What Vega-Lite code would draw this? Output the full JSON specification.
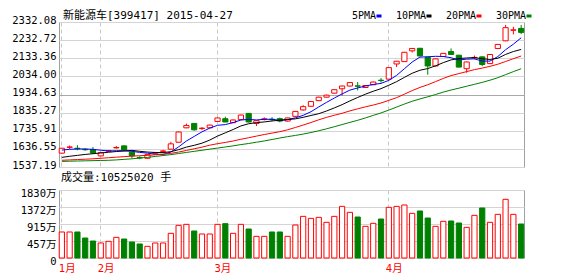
{
  "$schema": "https://vega.github.io/schema/vega-lite/v6.json",
  "background": "white",
  "padding": {"left": 11, "top": 9, "right": 0, "bottom": 0},
  "bounds": "flush",
  "spacing": 23,
  "config": {
    "font": "DejaVu Sans Mono, Noto Sans CJK SC",
    "view": {"stroke": "#a0a0a0", "strokeWidth": 1},
    "axis": {"ticks": false, "domain": false, "title": null, "labelFont": "DejaVu Sans Mono, Noto Sans CJK SC", "labelFontSize": 10.5, "labelColor": "#000000", "labelPadding": 3, "labelOverlap": false},
    "title": {"font": "DejaVu Sans Mono, Noto Sans CJK SC", "fontSize": 11, "fontWeight": "normal", "anchor": "start", "frame": "group", "color": "#000000"}
  },
  "datasets": {
    "k": [
      {"d":"2015-01-26","o":1613,"h":1642,"l":1611,"c":1640,"v":700,"5PMA":1630,"10PMA":1590,"20PMA":1574,"30PMA":1568},
      {"d":"2015-01-27","o":1645,"h":1655,"l":1636,"c":1647,"v":700,"5PMA":1634,"10PMA":1596,"20PMA":1576,"30PMA":1569},
      {"d":"2015-01-28","o":1640,"h":1657,"l":1629,"c":1637,"v":700,"5PMA":1636,"10PMA":1601,"20PMA":1578,"30PMA":1570},
      {"d":"2015-01-29","o":1634,"h":1640,"l":1626,"c":1632,"v":538,"5PMA":1636,"10PMA":1606,"20PMA":1580,"30PMA":1571},
      {"d":"2015-01-30","o":1633,"h":1647,"l":1612,"c":1614,"v":457,"5PMA":1634,"10PMA":1610,"20PMA":1582,"30PMA":1572},
      {"d":"2015-02-02","o":1598,"h":1620,"l":1596,"c":1616,"v":404,"5PMA":1629.2,"10PMA":1614,"20PMA":1585,"30PMA":1573},
      {"d":"2015-02-03","o":1624,"h":1630,"l":1620,"c":1626,"v":449,"5PMA":1625,"10PMA":1618,"20PMA":1588,"30PMA":1574},
      {"d":"2015-02-04","o":1642,"h":1652,"l":1638,"c":1644,"v":556,"5PMA":1626.4,"10PMA":1622,"20PMA":1591,"30PMA":1576},
      {"d":"2015-02-05","o":1653,"h":1655,"l":1629,"c":1631,"v":511,"5PMA":1626.2,"10PMA":1625,"20PMA":1594,"30PMA":1579},
      {"d":"2015-02-06","o":1618,"h":1620,"l":1585,"c":1598,"v":431,"5PMA":1623,"10PMA":1628.5,"20PMA":1597,"30PMA":1582},
      {"d":"2015-02-09","o":1589,"h":1596,"l":1580,"c":1587,"v":377,"5PMA":1617.2,"10PMA":1623.2,"20PMA":1599,"30PMA":1586},
      {"d":"2015-02-10","o":1585,"h":1607,"l":1583,"c":1605,"v":314,"5PMA":1613,"10PMA":1619,"20PMA":1601,"30PMA":1590},
      {"d":"2015-02-11","o":1613,"h":1620,"l":1606,"c":1615,"v":404,"5PMA":1607.2,"10PMA":1616.8,"20PMA":1604,"30PMA":1595},
      {"d":"2015-02-12","o":1623,"h":1631,"l":1618,"c":1625,"v":404,"5PMA":1606,"10PMA":1616.1,"20PMA":1607,"30PMA":1600},
      {"d":"2015-02-13","o":1635,"h":1675,"l":1633,"c":1664,"v":664,"5PMA":1619.2,"10PMA":1621.1,"20PMA":1612,"30PMA":1605},
      {"d":"2015-02-16","o":1673,"h":1731,"l":1671,"c":1729,"v":879,"5PMA":1647.6,"10PMA":1632.4,"20PMA":1619,"30PMA":1611},
      {"d":"2015-02-17","o":1752,"h":1775,"l":1750,"c":1765,"v":906,"5PMA":1679.6,"10PMA":1646.3,"20PMA":1628,"30PMA":1617},
      {"d":"2015-02-25","o":1776,"h":1778,"l":1736,"c":1741,"v":727,"5PMA":1704.8,"10PMA":1656,"20PMA":1637,"30PMA":1623},
      {"d":"2015-02-26","o":1748,"h":1756,"l":1740,"c":1750,"v":646,"5PMA":1729.8,"10PMA":1667.9,"20PMA":1646,"30PMA":1629},
      {"d":"2015-02-27","o":1752,"h":1769,"l":1750,"c":1767,"v":646,"5PMA":1750.4,"10PMA":1684.8,"20PMA":1656.7,"30PMA":1635},
      {"d":"2015-03-02","o":1787,"h":1808,"l":1785,"c":1806,"v":906,"5PMA":1765.8,"10PMA":1706.7,"20PMA":1665,"30PMA":1641},
      {"d":"2015-03-03","o":1802,"h":1813,"l":1782,"c":1784,"v":924,"5PMA":1769.6,"10PMA":1724.6,"20PMA":1671.8,"30PMA":1647},
      {"d":"2015-03-04","o":1780,"h":1797,"l":1778,"c":1795,"v":664,"5PMA":1780.4,"10PMA":1742.6,"20PMA":1679.7,"30PMA":1653},
      {"d":"2015-03-05","o":1797,"h":1824,"l":1795,"c":1822,"v":906,"5PMA":1794.8,"10PMA":1762.3,"20PMA":1689.2,"30PMA":1660},
      {"d":"2015-03-06","o":1831,"h":1833,"l":1782,"c":1784,"v":780,"5PMA":1798.2,"10PMA":1774.3,"20PMA":1697.7,"30PMA":1666},
      {"d":"2015-03-09","o":1776,"h":1793,"l":1762,"c":1791,"v":583,"5PMA":1795.2,"10PMA":1780.5,"20PMA":1706.5,"30PMA":1673},
      {"d":"2015-03-10","o":1799,"h":1809,"l":1792,"c":1801,"v":583,"5PMA":1798.6,"10PMA":1784.1,"20PMA":1715.2,"30PMA":1680},
      {"d":"2015-03-11","o":1799,"h":1810,"l":1788,"c":1797,"v":700,"5PMA":1799,"10PMA":1789.7,"20PMA":1722.9,"30PMA":1688},
      {"d":"2015-03-12","o":1802,"h":1808,"l":1782,"c":1789,"v":700,"5PMA":1792.4,"10PMA":1793.6,"20PMA":1730.8,"30PMA":1696},
      {"d":"2015-03-13","o":1789,"h":1808,"l":1787,"c":1806,"v":583,"5PMA":1796.8,"10PMA":1797.5,"20PMA":1741.2,"30PMA":1703.6},
      {"d":"2015-03-16","o":1815,"h":1844,"l":1813,"c":1842,"v":888,"5PMA":1807,"10PMA":1801.1,"20PMA":1753.9,"30PMA":1710.3},
      {"d":"2015-03-17","o":1850,"h":1876,"l":1846,"c":1868,"v":1121,"5PMA":1820.4,"10PMA":1809.5,"20PMA":1767.1,"30PMA":1717.7},
      {"d":"2015-03-18","o":1870,"h":1898,"l":1868,"c":1896,"v":1067,"5PMA":1840.2,"10PMA":1819.6,"20PMA":1781.1,"30PMA":1726.3},
      {"d":"2015-03-19","o":1901,"h":1922,"l":1899,"c":1920,"v":1094,"5PMA":1866.4,"10PMA":1829.4,"20PMA":1795.9,"30PMA":1735.9},
      {"d":"2015-03-20","o":1920,"h":1934,"l":1918,"c":1931,"v":960,"5PMA":1891.4,"10PMA":1844.1,"20PMA":1809.2,"30PMA":1746.5},
      {"d":"2015-03-23","o":1942,"h":1963,"l":1940,"c":1961,"v":1121,"5PMA":1915.2,"10PMA":1861.1,"20PMA":1820.8,"30PMA":1758},
      {"d":"2015-03-24","o":1966,"h":1983,"l":1929,"c":1981,"v":1390,"5PMA":1937.8,"10PMA":1879.1,"20PMA":1831.6,"30PMA":1769.8},
      {"d":"2015-03-25","o":1981,"h":2002,"l":1979,"c":2000,"v":1229,"5PMA":1958.6,"10PMA":1899.4,"20PMA":1844.6,"30PMA":1781.7},
      {"d":"2015-03-26","o":1982,"h":2003,"l":1957,"c":1980,"v":1103,"5PMA":1970.6,"10PMA":1918.5,"20PMA":1856.1,"30PMA":1793.3},
      {"d":"2015-03-27","o":1973,"h":1986,"l":1971,"c":1984,"v":852,"5PMA":1981.2,"10PMA":1936.3,"20PMA":1866.9,"30PMA":1806.2},
      {"d":"2015-03-30","o":1988,"h":2005,"l":1986,"c":2003,"v":933,"5PMA":1989.6,"10PMA":1952.4,"20PMA":1876.8,"30PMA":1820.1},
      {"d":"2015-03-31","o":2013,"h":2025,"l":2000,"c":2011,"v":1049,"5PMA":1995.6,"10PMA":1966.7,"20PMA":1888.1,"30PMA":1833.6},
      {"d":"2015-04-01","o":2019,"h":2084,"l":2017,"c":2082,"v":1363,"5PMA":2012,"10PMA":1985.3,"20PMA":1902.5,"30PMA":1849.2},
      {"d":"2015-04-02","o":2102,"h":2119,"l":2085,"c":2117,"v":1390,"5PMA":2039.4,"10PMA":2005,"20PMA":1917.2,"30PMA":1865.6},
      {"d":"2015-04-03","o":2115,"h":2168,"l":2113,"c":2166,"v":1426,"5PMA":2075.8,"10PMA":2028.5,"20PMA":1936.3,"30PMA":1882.3},
      {"d":"2015-04-07","o":2174,"h":2189,"l":2165,"c":2187,"v":1202,"5PMA":2112.6,"10PMA":2051.1,"20PMA":1956.1,"30PMA":1897.6},
      {"d":"2015-04-08","o":2188,"h":2190,"l":2144,"c":2146,"v":1265,"5PMA":2139.6,"10PMA":2067.6,"20PMA":1973.4,"30PMA":1910.3},
      {"d":"2015-04-09","o":2139,"h":2141,"l":2043,"c":2091,"v":1076,"5PMA":2141.4,"10PMA":2076.7,"20PMA":1988.1,"30PMA":1921.9},
      {"d":"2015-04-10","o":2091,"h":2132,"l":2089,"c":2130,"v":852,"5PMA":2144,"10PMA":2091.7,"20PMA":2005.1,"30PMA":1934.6},
      {"d":"2015-04-13","o":2143,"h":2162,"l":2141,"c":2160,"v":987,"5PMA":2142.8,"10PMA":2109.3,"20PMA":2022.8,"30PMA":1947.7},
      {"d":"2015-04-14","o":2170,"h":2187,"l":2152,"c":2154,"v":996,"5PMA":2136.2,"10PMA":2124.4,"20PMA":2038.4,"30PMA":1959.3},
      {"d":"2015-04-15","o":2150,"h":2152,"l":2083,"c":2085,"v":942,"5PMA":2124,"10PMA":2131.8,"20PMA":2049.3,"30PMA":1969.3},
      {"d":"2015-04-16","o":2076,"h":2115,"l":2054,"c":2113,"v":825,"5PMA":2128.4,"10PMA":2134.9,"20PMA":2060.1,"30PMA":1979.9},
      {"d":"2015-04-17","o":2136,"h":2148,"l":2128,"c":2138,"v":1148,"5PMA":2130,"10PMA":2137,"20PMA":2071,"30PMA":1990.5},
      {"d":"2015-04-20","o":2141,"h":2143,"l":2090,"c":2099,"v":1346,"5PMA":2117.8,"10PMA":2130.3,"20PMA":2079.4,"30PMA":2001},
      {"d":"2015-04-21","o":2104,"h":2156,"l":2102,"c":2154,"v":960,"5PMA":2117.8,"10PMA":2127,"20PMA":2089.1,"30PMA":2013.1},
      {"d":"2015-04-22","o":2187,"h":2211,"l":2185,"c":2209,"v":1175,"5PMA":2142.6,"10PMA":2133.3,"20PMA":2100.5,"30PMA":2026.7},
      {"d":"2015-04-23","o":2229,"h":2316,"l":2227,"c":2301,"v":1579,"5PMA":2180.2,"10PMA":2154.3,"20PMA":2115.5,"30PMA":2043.5},
      {"d":"2015-04-24","o":2287,"h":2306,"l":2264,"c":2289,"v":1175,"5PMA":2210.4,"10PMA":2170.2,"20PMA":2131,"30PMA":2060.1},
      {"d":"2015-04-27","o":2297,"h":2316,"l":2266,"c":2275,"v":915,"5PMA":2245.6,"10PMA":2181.7,"20PMA":2145.5,"30PMA":2075.8}
    ]
  },
  "resolve": {"scale": {"x": "shared", "y": "independent"}},
  "vconcat": [
    {
      "width": 465,
      "height": 145,
      "title": {"text": "新能源车[399417] 2015-04-27", "dx": 4, "offset": 3, "dy": 9},
      "data": {"name": "k"},
      "encoding": {
        "x": {
          "field": "d", "type": "ordinal", "sort": "ascending",
          "scale": {"type": "band", "paddingInner": 0.33, "paddingOuter": 0.03},
          "axis": {"values": ["2015-01-26", "2015-02-02", "2015-03-02", "2015-04-01"], "labels": false, "grid": true, "gridDash": [4, 3], "gridColor": "#c8c8c8", "bandPosition": 0.5}
        }
      },
      "layer": [
        {
          "mark": {"type": "rule", "strokeWidth": 1},
          "encoding": {
            "y": {
              "field": "l", "type": "quantitative",
              "scale": {"domain": [1537.19, 2332.08], "nice": false, "zero": false},
              "axis": {
                "values": [1537.19, 1636.55, 1735.91, 1835.27, 1934.63, 2034.0, 2133.36, 2232.72, 2332.08],
                "tickCount": 9,
                "format": ".2f", "grid": true, "labelOverlap": false, "labelOffset": -2,
                "gridColor": {"condition": {"test": "abs(datum.value - 1934.63) < 0.5", "value": "#a8a8a8"}, "value": "#d4d4d4"}
              }
            },
            "y2": {"field": "h"},
            "stroke": {"condition": {"test": "datum.c >= datum.o", "value": "#ff0000"}, "value": "#008000"}
          }
        },
        {
          "mark": {"type": "bar", "strokeWidth": 1},
          "encoding": {
            "y": {"field": "o", "type": "quantitative"},
            "y2": {"field": "c"},
            "fill": {"condition": {"test": "datum.c >= datum.o", "value": "#ffffff"}, "value": "#008000"},
            "stroke": {"condition": {"test": "datum.c >= datum.o", "value": "#ff0000"}, "value": "#008000"}
          }
        },
        {
          "transform": [{"fold": ["5PMA", "10PMA", "20PMA", "30PMA"], "as": ["ma", "p"]}],
          "mark": {"type": "line", "strokeWidth": 1},
          "encoding": {
            "y": {"field": "p", "type": "quantitative"},
            "color": {
              "field": "ma", "type": "nominal",
              "scale": {"domain": ["5PMA", "10PMA", "20PMA", "30PMA"], "range": ["#0000ff", "#000000", "#ff0000", "#008000"]},
              "legend": {
                "orient": "none", "legendX": 315, "legendY": -11, "direction": "horizontal", "title": null,
                "labelFont": "DejaVu Sans Mono", "labelFontSize": 10, "labelColor": "#000000",
                "symbolType": "stroke", "symbolStrokeWidth": 3, "symbolSize": 25,
                "labelAlign": "right", "labelOffset": -8, "columnPadding": 7, "padding": 0, "gridAlign": "none"
              }
            }
          }
        }
      ]
    },
    {
      "width": 465,
      "height": 68,
      "title": {"text": "成交量:10525020 手", "dx": 2, "offset": 6, "dy": 1},
      "data": {"name": "k"},
      "mark": {"type": "bar", "strokeWidth": 1},
      "encoding": {
        "x": {
          "field": "d", "type": "ordinal", "sort": "ascending",
          "scale": {"type": "band", "paddingInner": 0.33, "paddingOuter": 0.03},
          "axis": {
            "values": ["2015-01-26", "2015-02-02", "2015-03-02", "2015-04-01"],
            "labelExpr": "toNumber(substring(datum.value, 5, 7)) + '月'",
            "labelColor": "#ff0000", "labelAlign": "left", "labelOffset": -3, "labelPadding": 5, "labelAngle": 0,
            "labelFontSize": 10.5, "grid": true, "gridDash": [4, 3], "gridColor": "#c8c8c8", "bandPosition": 0.5
          }
        },
        "y": {
          "field": "v", "type": "quantitative",
          "scale": {"domain": [0, 1830], "nice": false},
          "axis": {
            "values": [0, 457.5, 915, 1372.5, 1830],
            "tickCount": 5,
            "labelExpr": "datum.value == 0 ? '0' : floor(datum.value) + '万'",
            "grid": true, "gridColor": "#d4d4d4", "labelOverlap": false, "labelOffset": 3
          }
        },
        "fill": {"condition": {"test": "datum.c >= datum.o", "value": "#ffffff"}, "value": "#008000"},
        "stroke": {"condition": {"test": "datum.c >= datum.o", "value": "#ff0000"}, "value": "#008000"}
      }
    }
  ]
}
